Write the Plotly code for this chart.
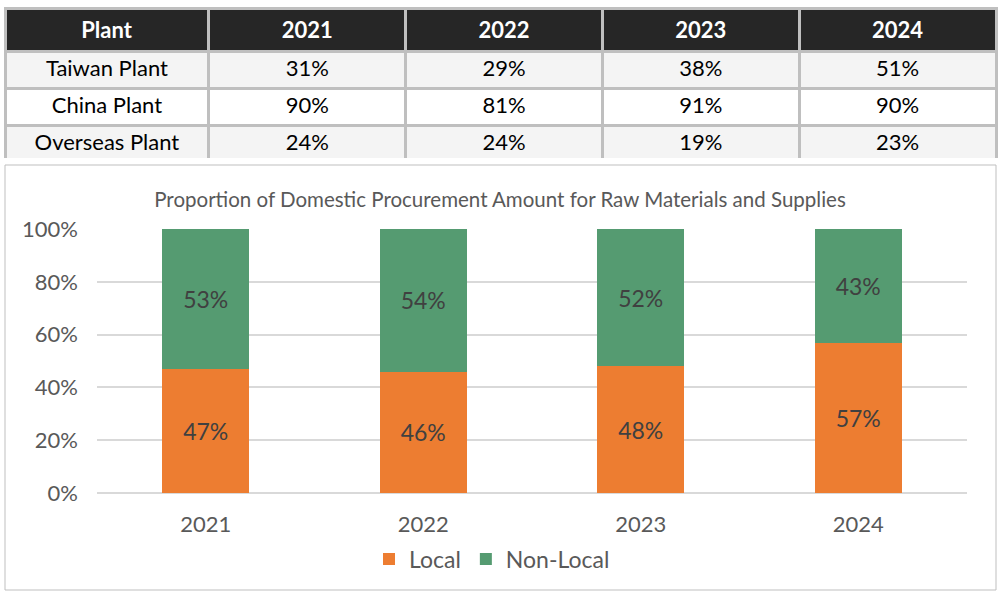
import plotly.graph_objects as go

# ---- data ----
table_header = ["Plant", "2021", "2022", "2023", "2024"]
plants = ["Taiwan Plant", "China Plant", "Overseas Plant"]
y2021 = ["31%", "90%", "24%"]
y2022 = ["29%", "81%", "24%"]
y2023 = ["38%", "91%", "19%"]
y2024 = ["51%", "90%", "23%"]

years = ["2021", "2022", "2023", "2024"]
local_vals = [47, 46, 48, 57]
nonlocal_vals = [53, 54, 52, 43]

W, H = 1000, 592
FONT = "Lato, Carlito, Calibri, sans-serif"

def px_y(p):
    return 1 - p / H

fig = go.Figure()

fig.add_trace(go.Table(
    domain=dict(x=[5 / W, 996 / W], y=[px_y(158), px_y(8)]),
    columnwidth=[203, 196, 196, 196, 196],
    header=dict(
        values=[f"<b>{h}</b>" for h in table_header],
        fill_color="#262626",
        line=dict(color="#bfbfbf", width=3),
        font=dict(family=FONT, size=22, color="white"),
        align="center",
        height=37,
    ),
    cells=dict(
        values=[plants, y2021, y2022, y2023, y2024],
        fill_color=[["#f4f4f4", "#ffffff", "#f4f4f4"]] * 5,
        line=dict(color="#bfbfbf", width=3),
        font=dict(family=FONT, size=22, color="black"),
        align="center",
        height=37,
    ),
))

fig.add_trace(go.Bar(
    x=years, y=local_vals, name="Local",
    marker=dict(color="#ED7D31", line=dict(width=0)),
    text=[f"{v}%" for v in local_vals], textposition="inside",
    insidetextanchor="middle",
    textfont=dict(family=FONT, size=23, color="#404040"),
    hoverinfo="skip",
))
fig.add_trace(go.Bar(
    x=years, y=nonlocal_vals, name="Non-Local",
    marker=dict(color="#559B71", line=dict(width=0)),
    text=[f"{v}%" for v in nonlocal_vals], textposition="inside",
    insidetextanchor="middle",
    textfont=dict(family=FONT, size=23, color="#404040"),
    hoverinfo="skip",
))

fig.add_shape(type="rect", xref="paper", yref="paper",
              x0=5 / W, x1=996 / W, y0=px_y(590), y1=px_y(165),
              line=dict(color="#bfbfbf", width=1), layer="below")

fig.update_layout(
    width=W, height=H,
    margin=dict(l=0, r=0, t=0, b=0, pad=0, autoexpand=False),
    paper_bgcolor="white", plot_bgcolor="white",
    barmode="stack", bargap=0.6,
    font=dict(family=FONT, color="#595959"),
    title=dict(
        text="Proportion of Domestic Procurement Amount for Raw Materials and Supplies",
        x=0.5, xanchor="center", xref="paper",
        y=px_y(200), yanchor="middle", yref="paper", automargin=False,
        font=dict(family=FONT, size=20.5, color="#595959"),
    ),
    xaxis=dict(
        domain=[97 / W, 967 / W], automargin=False,
        showgrid=False, showline=False, zeroline=False,
        tickfont=dict(family=FONT, size=22, color="#595959"),
        ticklabelstandoff=16,
    ),
    yaxis=dict(
        domain=[px_y(493), px_y(229)], automargin=False,
        range=[0, 100], dtick=20, ticksuffix="%",
        showgrid=True, gridcolor="#d9d9d9", gridwidth=2,
        zeroline=True, zerolinecolor="#d9d9d9", zerolinewidth=2,
        showline=False,
        tickfont=dict(family=FONT, size=22, color="#595959"),
        ticklabelstandoff=18,
    ),
    legend=dict(
        orientation="h", x=0.492, xanchor="center",
        y=px_y(559), yanchor="middle",
        font=dict(family=FONT, size=23, color="#595959"),
        traceorder="normal",
    ),
    showlegend=True,
)

fig.write_html(
    "out.html",
    config={"displayModeBar": False},
    post_script="document.body.style.margin='0';document.body.style.overflow='hidden';",
)
